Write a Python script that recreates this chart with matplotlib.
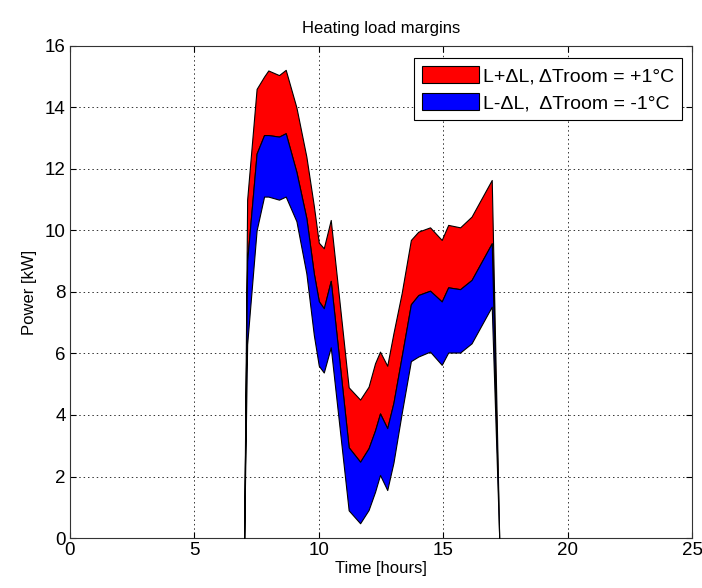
import matplotlib
matplotlib.use("Agg")
import matplotlib.pyplot as plt
from matplotlib.patches import Patch

plt.rcParams['font.family'] = ['Liberation Sans', 'DejaVu Sans']

# Time [hours]
hours = [7.0, 7.12, 7.5, 7.8, 7.97, 8.4, 8.67, 9.1, 9.5, 9.8, 10.0, 10.2, 10.48,
         11.2, 11.66, 12.0, 12.26, 12.46, 12.75, 13.0, 13.33, 13.7, 14.0, 14.47,
         14.94, 15.2, 15.68, 16.14, 16.95, 17.25]
# Upper bound: L + dL (dTroom = +1 C)
upper = [0, 11.0, 14.6, 15.0, 15.2, 15.05, 15.22, 14.0, 12.4, 10.8, 9.6, 9.42, 10.34,
         4.9, 4.5, 4.92, 5.68, 6.06, 5.6, 6.66, 7.96, 9.69, 9.96, 10.1,
         9.69, 10.18, 10.1, 10.45, 11.64, 0]
# Nominal load L
middle = [0, 9.0, 12.5, 13.1, 13.1, 13.05, 13.16, 11.9, 10.4, 8.6, 7.7, 7.47, 8.36,
          2.95, 2.48, 2.92, 3.5, 4.05, 3.57, 4.4, 5.9, 7.6, 7.9, 8.04,
          7.69, 8.15, 8.09, 8.39, 9.58, 0]
# Lower bound: L - dL (dTroom = -1 C)
lower = [0, 6.3, 10.0, 11.1, 11.1, 11.0, 11.1, 10.3, 8.6, 6.6, 5.6, 5.38, 6.2,
         0.9, 0.48, 0.91, 1.5, 2.05, 1.56, 2.45, 4.05, 5.75, 5.9, 6.06,
         5.63, 6.03, 6.03, 6.33, 7.52, 0]

labels = ["L+\u0394L, \u0394Troom = +1\u00b0C", "L-\u0394L,  \u0394Troom = -1\u00b0C"]

fig = plt.figure(figsize=(7.02, 5.88), dpi=100)
ax = fig.add_axes([0.0997, 0.085, 0.8861, 0.837])

ax.fill_between(hours, middle, upper, facecolor='#ff0000', edgecolor='black', linewidth=0.8, zorder=3)
ax.fill_between(hours, lower, middle, facecolor='#0000ff', edgecolor='black', linewidth=0.8, zorder=3)

ax.set_xlim(0, 25)
ax.set_ylim(0, 16)
ax.set_xticks([0, 5, 10, 15, 20, 25])
ax.set_yticks(range(0, 17, 2))
ax.grid(True, color='black', linestyle=(0, (1.5, 3)), linewidth=0.7, alpha=0.8)
ax.set_axisbelow(True)
ax.tick_params(direction='in', labelsize=13.5, length=4, top=True, right=True, pad=3)
for s in ax.spines.values():
    s.set_linewidth(0.8)
    s.set_color('#333333')

ax.set_title("Heating load margins", fontsize=12, pad=9)
ax.set_xlabel("Time [hours]", fontsize=12, labelpad=1)
ax.set_ylabel("Power [kW]", fontsize=12, labelpad=6)

handles = [Patch(facecolor='#ff0000', edgecolor='black', linewidth=0.8),
           Patch(facecolor='#0000ff', edgecolor='black', linewidth=0.8)]
leg = ax.legend(handles, labels, loc='upper right', fontsize=14, fancybox=False,
                edgecolor='black', framealpha=1, handlelength=2.9, handleheight=1.0,
                borderaxespad=0.5, labelspacing=0.4, handletextpad=0.25,
                borderpad=0.4, bbox_to_anchor=(1.0, 0.995))
leg.get_frame().set_linewidth(0.8)

fig.savefig("out.png", dpi=100)
